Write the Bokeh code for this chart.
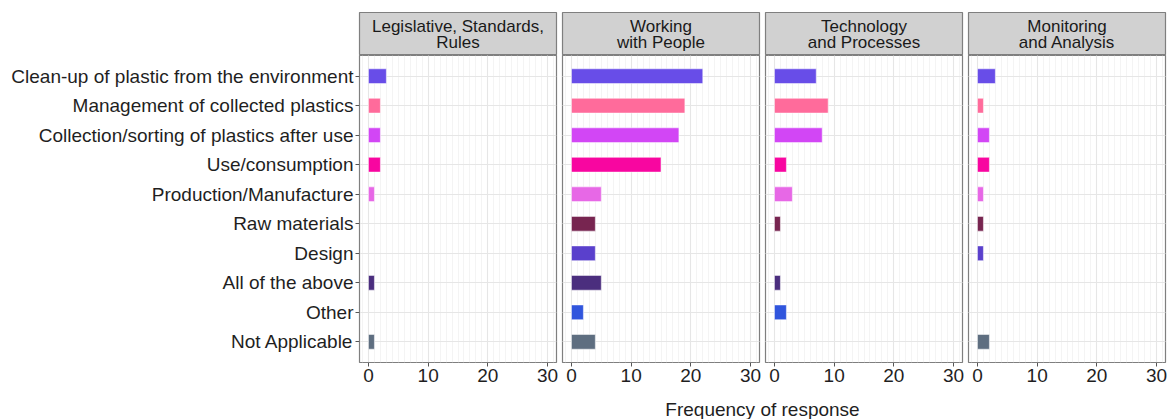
from bokeh.plotting import figure
from bokeh.layouts import column, row
from bokeh.models import (Range1d, FactorRange, FixedTicker, Grid, CategoricalTicker,
                          Spacer, ColumnDataSource)
from bokeh.core.properties import value
from bokeh.embed import file_html
from bokeh.resources import INLINE

# ---------------- data ----------------
categories = [
    "Clean-up of plastic from the environment",
    "Management of collected plastics",
    "Collection/sorting of plastics after use",
    "Use/consumption",
    "Production/Manufacture",
    "Raw materials",
    "Design",
    "All of the above",
    "Other",
    "Not Applicable",
]
facet_titles = [
    "Legislative, Standards,\nRules",
    "Working\nwith People",
    "Technology\nand Processes",
    "Monitoring\nand Analysis",
]
legislative = [3, 2, 2, 2, 1, 0, 0, 1, 0, 1]
working = [22, 19, 18, 15, 5, 4, 4, 5, 2, 4]
technology = [7, 9, 8, 2, 3, 1, 0, 1, 2, 0]
monitoring = [3, 1, 2, 2, 1, 1, 1, 0, 0, 2]
bar_colors = [
    "#684de8", "#ff6b9b", "#d246f5", "#f806a0", "#e768e6",
    "#772550", "#5a40cc", "#4b2e7e", "#3055dd", "#5e6e80",
]
x_ticks = [0, 10, 20, 30]
x_tick_labels = ["0", "10", "20", "30"]
axis_title = "Frequency of response"

series = [legislative, working, technology, monitoring]

# ---------------- style / layout ----------------
FONT = "Liberation Sans"
TEXT = "#1f1f1f"
LEFT = 359
GAP = 3
FW = 197
FH = 307
SH = 43
TOP = 12
BOTTOM = 30
TITLE_H = 27
BORDER = "#7f7f7f"

yr = FactorRange(factors=list(reversed(categories)), range_padding=0.2,
                 range_padding_units="absolute")

strips = []
mains = []
for i, (title, vals) in enumerate(zip(facet_titles, series)):
    bl = LEFT if i == 0 else GAP
    br = GAP if i < 3 else GAP + 1
    w = bl + FW + br

    s = figure(width=w, height=TOP + SH, x_range=Range1d(0, 1), y_range=Range1d(0, SH),
               title=None, x_axis_type=None, y_axis_type=None,
               min_border_left=bl, min_border_right=br,
               min_border_top=TOP, min_border_bottom=0, background_fill_color="#d1d1d1",
               border_fill_color="white", outline_line_color=BORDER, outline_line_width=1.2,
               toolbar_location=None, output_backend="svg")
    s.text(x=[0.5], y=[SH / 2 - 0.5], text=[title], text_align="center", text_baseline="middle",
           text_font=value(FONT), text_font_size="17px", text_color="#1a1a1a",
           text_line_height=0.87)
    strips.append(s)

    p = figure(width=w, height=FH + BOTTOM, x_range=Range1d(-1.5, 31.5), y_range=yr,
               title=None, min_border_left=bl, min_border_right=br, min_border_top=0,
               min_border_bottom=BOTTOM, y_axis_location="left" if i == 0 else None,
               background_fill_color="white", border_fill_color="white",
               outline_line_color=BORDER, outline_line_width=1.2,
               toolbar_location=None, output_backend="svg")

    keep = [k for k, v in enumerate(vals) if v > 0]
    src = ColumnDataSource(dict(cat=[categories[k] for k in keep],
                                val=[vals[k] for k in keep],
                                color=[bar_colors[k] for k in keep]))
    p.hbar(y="cat", left=0, right="val", height=0.5, fill_color="color",
           line_color="white", line_alpha=0.5, line_width=1, source=src)

    xa = p.xaxis[0]
    xa.ticker = FixedTicker(ticks=x_ticks, minor_ticks=list(range(-1, 32)))
    xa.major_label_overrides = {t: l for t, l in zip(x_ticks, x_tick_labels)}
    xa.axis_line_color = None
    xa.major_tick_out = 4
    xa.major_tick_in = 0
    xa.minor_tick_out = 0
    xa.minor_tick_in = 0
    xa.major_tick_line_color = "#555555"
    xa.major_label_standoff = 2
    xa.major_label_text_font = FONT
    xa.major_label_text_font_size = "19px"
    xa.major_label_text_color = TEXT

    p.xgrid.grid_line_color = "#e6e6e6"
    p.xgrid.grid_line_width = 1.1
    p.xgrid.minor_grid_line_color = "#f1f1f1"
    p.xgrid.minor_grid_line_width = 0.8

    if i == 0:
        ya = p.yaxis[0]
        ya.axis_line_color = None
        ya.major_tick_out = 4
        ya.major_tick_in = 0
        ya.major_tick_line_color = "#555555"
        ya.major_label_standoff = 2
        ya.major_label_text_font = FONT
        ya.major_label_text_font_size = "19px"
        ya.major_label_text_color = TEXT
        p.ygrid.grid_line_color = "#e6e6e6"
        p.ygrid.grid_line_width = 1.1
    else:
        p.add_layout(Grid(dimension=1, ticker=CategoricalTicker(),
                          grid_line_color="#e6e6e6", grid_line_width=1.1))
    mains.append(p)

title_w = FW * 4 + GAP * 6
t = figure(width=title_w, height=TITLE_H, x_range=Range1d(0, 1), y_range=Range1d(0, TITLE_H),
           title=None, x_axis_type=None, y_axis_type=None, min_border=0,
           outline_line_color=None, background_fill_color="white", border_fill_color="white",
           toolbar_location=None, output_backend="svg")
t.text(x=[0.5], y=[10], text=[axis_title], text_align="center", text_baseline="middle",
       text_font=value(FONT), text_font_size="19px", text_color=TEXT)

layout = column(row(*strips), row(*mains), row(Spacer(width=LEFT, height=TITLE_H), t))

open("out.html", "w").write(file_html(layout, INLINE))
